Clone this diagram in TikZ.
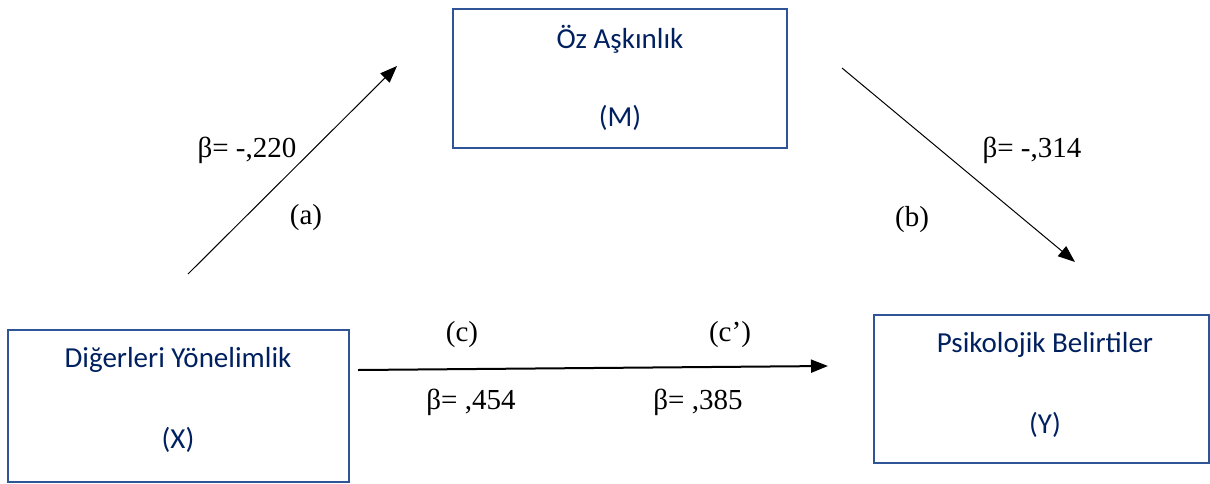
\documentclass[tikz,border=0pt]{standalone}
\usepackage{fontspec}
\setmainfont{Liberation Serif}
\newfontfamily\boxfont{Carlito}
\usetikzlibrary{arrows.meta}
\definecolor{boxblue}{HTML}{2F5597}
\definecolor{navy}{HTML}{002060}
\tikzset{
  varbox/.style={draw=boxblue, line width=2.8pt, rectangle, inner sep=0pt},
  boxtext/.style={font=\boxfont\fontsize{29}{34}\selectfont, text=navy, inner sep=0pt},
  coef/.style={font=\fontsize{29}{34}\selectfont, inner sep=0pt},
  path/.style={draw=black, line width=1pt, -{Triangle[length=17pt,width=13pt]}}
}
\begin{document}
\begin{tikzpicture}[x=1pt,y=-1pt]
\useasboundingbox (0,0) rectangle (1210,483);
% boxes
\node[varbox, minimum width=334pt, minimum height=139pt] (M) at (620,78.5) {};
\node[varbox, minimum width=341pt, minimum height=152pt] (X) at (178.5,406) {};
\node[varbox, minimum width=335pt, minimum height=148pt] (Y) at (1041.5,389) {};
% box texts
\node[boxtext] (Mt) at (620,39) {Öz Aşkınlık};
\node[boxtext] (Ml) at (620,118) {(M)};
\node[boxtext] (Xt) at (178,360) {Diğerleri Yönelimlik};
\node[boxtext] (Xl) at (178,440) {(X)};
\node[boxtext] (Yt) at (1045,345) {Psikolojik Belirtiler};
\node[boxtext] (Yl) at (1045,425) {(Y)};
% connector ends
\coordinate (a0) at (188,274);
\coordinate (a1) at (397,66);
\coordinate (b0) at (842,68);
\coordinate (b1) at (1075,262);
\coordinate (c0) at (358,370);
\coordinate (c1) at (828,366);
\draw[path] (a0) -- (a1);
\draw[path] (b0) -- (b1);
\draw[path, line width=2pt] (c0) -- (c1);
% labels
\node[coef] (la) at (247,150) {β= -,220};
\node[coef] (pa) at (306,218) {(a)};
\node[coef] (lb) at (1032,150) {β= -,314};
\node[coef] (pb) at (912,220) {(b)};
\node[coef] (pc) at (462,335) {(c)};
\node[coef] (pcc) at (730,335) {(c’)};
\node[coef] (lc) at (471,402) {β= ,454};
\node[coef] (lcc) at (698,402) {β= ,385};
\end{tikzpicture}
\end{document}
